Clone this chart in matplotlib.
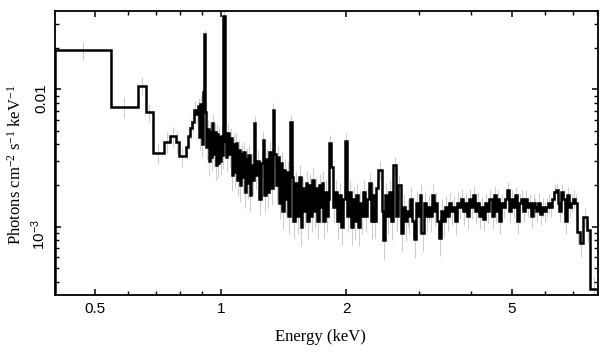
"""Unfolded X-ray spectrum (photons cm^-2 s^-1 keV^-1) vs energy."""

import matplotlib

matplotlib.use("Agg")
import matplotlib.pyplot as plt
import numpy as np

# bin edges in keV (one more than the number of bins)
edges_kev = [
    0.400, 0.544, 0.634, 0.660, 0.688, 0.730, 0.754, 0.780, 0.792, 0.824,
    0.834, 0.846, 0.855, 0.863, 0.874, 0.882, 0.888, 0.894, 0.900, 0.906,
    0.912, 0.918, 0.924, 0.930, 0.936, 0.942, 0.948, 0.954, 0.960, 0.966,
    0.972, 0.978, 0.984, 0.990, 0.996, 1.002, 1.008, 1.014, 1.022, 1.030,
    1.038, 1.046, 1.054, 1.062, 1.070, 1.078, 1.086, 1.094, 1.102, 1.110,
    1.118, 1.126, 1.134, 1.142, 1.150, 1.158, 1.166, 1.174, 1.182, 1.190,
    1.200, 1.212, 1.224, 1.236, 1.248, 1.260, 1.272, 1.284, 1.296, 1.308,
    1.320, 1.332, 1.346, 1.358, 1.370, 1.382, 1.394, 1.406, 1.418, 1.430,
    1.442, 1.454, 1.466, 1.480, 1.495, 1.510, 1.525, 1.540, 1.555, 1.570,
    1.585, 1.600, 1.615, 1.630, 1.645, 1.660, 1.675, 1.690, 1.705, 1.720,
    1.735, 1.750, 1.765, 1.780, 1.795, 1.810, 1.825, 1.845, 1.865, 1.885,
    1.905, 1.925, 1.945, 1.965, 1.985, 2.015, 2.035, 2.055, 2.075, 2.095,
    2.115, 2.135, 2.155, 2.175, 2.195, 2.215, 2.240, 2.265, 2.290, 2.315,
    2.340, 2.365, 2.390, 2.435, 2.460, 2.485, 2.510, 2.535, 2.560, 2.590,
    2.640, 2.670, 2.705, 2.735, 2.765, 2.795, 2.825, 2.855, 2.885, 2.915,
    2.945, 2.975, 3.005, 3.035, 3.070, 3.105, 3.140, 3.175, 3.210, 3.245,
    3.280, 3.315, 3.350, 3.385, 3.420, 3.460, 3.500, 3.540, 3.580, 3.620,
    3.660, 3.700, 3.740, 3.780, 3.820, 3.860, 3.900, 3.945, 3.990, 4.035,
    4.080, 4.125, 4.170, 4.220, 4.270, 4.320, 4.370, 4.420, 4.470, 4.520,
    4.570, 4.620, 4.670, 4.720, 4.770, 4.820, 4.870, 4.920, 4.975, 5.030,
    5.085, 5.140, 5.195, 5.250, 5.310, 5.370, 5.430, 5.490, 5.550, 5.610,
    5.670, 5.730, 5.790, 5.850, 5.910, 5.975, 6.040, 6.105, 6.170, 6.235,
    6.300, 6.370, 6.440, 6.510, 6.580, 6.650, 6.720, 6.790, 6.860, 6.930,
    7.000, 7.080, 7.160, 7.280, 7.420, 7.570, 7.700, 8.040,
]

# unfolded flux per bin
flux = [
    0.0193, 0.00747, 0.0106, 0.0068, 0.00346, 0.00416, 0.00457, 0.00416, 0.00327, 0.0038,
    0.0046, 0.0052, 0.0058, 0.0071, 0.0066, 0.0075, 0.0045, 0.0078, 0.0040, 0.0095,
    0.0251, 0.0068, 0.0038, 0.0051, 0.0030, 0.0049, 0.0032, 0.0057, 0.0034, 0.0049,
    0.0028, 0.0047, 0.0029, 0.0045, 0.0030, 0.0046, 0.0033, 0.0342, 0.0042, 0.0032,
    0.0048, 0.0034, 0.0044, 0.0024, 0.0040, 0.0025, 0.0041, 0.0022, 0.0036, 0.0020,
    0.0034, 0.0023, 0.0035, 0.0018, 0.0031, 0.0021, 0.0033, 0.0017, 0.0028, 0.0022,
    0.0057, 0.0024, 0.0030, 0.0016, 0.0029, 0.0043, 0.0017, 0.0031, 0.0018, 0.0035,
    0.0019, 0.0071, 0.0034, 0.0020, 0.0032, 0.0015, 0.0029, 0.0013, 0.0026, 0.0016,
    0.0025, 0.0012, 0.0058, 0.0023, 0.0011, 0.0021, 0.0012, 0.0023, 0.0010, 0.0019,
    0.0013, 0.0021, 0.0011, 0.0020, 0.0012, 0.0022, 0.0013, 0.0019, 0.0011, 0.0020,
    0.0014, 0.0021, 0.0011, 0.0018, 0.0012, 0.0016, 0.0041, 0.0027, 0.0014, 0.0018,
    0.0011, 0.0017, 0.0010, 0.0016, 0.0042, 0.0012, 0.0018, 0.0010, 0.0016, 0.0011,
    0.0017, 0.0010, 0.0015, 0.0012, 0.0018, 0.0012, 0.0016, 0.0021, 0.0011, 0.0017,
    0.0011, 0.0019, 0.0026, 0.0013, 0.0008, 0.0017, 0.0012, 0.0018, 0.0011, 0.0028,
    0.0012, 0.0020, 0.0009, 0.0014, 0.0011, 0.0013, 0.0012, 0.0016, 0.0011, 0.00082,
    0.0015, 0.0012, 0.0017, 0.0009, 0.0015, 0.0012, 0.0014, 0.0012, 0.0017, 0.0013,
    0.0015, 0.0011, 0.00083, 0.0013, 0.0011, 0.0014, 0.0012, 0.0015, 0.0013, 0.0014,
    0.0011, 0.0015, 0.0014, 0.0016, 0.0013, 0.0015, 0.0012, 0.0016, 0.0014, 0.0017,
    0.0013, 0.0015, 0.0012, 0.0014, 0.00115, 0.0015, 0.0013, 0.0016, 0.0012, 0.0017,
    0.0013, 0.0016, 0.0011, 0.0015, 0.0014, 0.0016, 0.00185, 0.0013, 0.0016, 0.0014,
    0.0017, 0.0011, 0.0015, 0.0016, 0.0013, 0.0016, 0.0014, 0.0015, 0.0012, 0.0015,
    0.0014, 0.0013, 0.0015, 0.00125, 0.0014, 0.0013, 0.0014, 0.0015, 0.0014, 0.0016,
    0.0018, 0.00185, 0.0015, 0.0013, 0.0018, 0.0016, 0.0011, 0.0017, 0.0014, 0.0015,
    0.0016, 0.0015, 0.00092, 0.00076, 0.00118, 0.00095, 0.000356,
]

# 1-sigma errors as a fraction of the flux
rel_err = [
    0.15, 0.17, 0.15, 0.15, 0.17, 0.17, 0.17, 0.18, 0.17, 0.18,
    0.18, 0.16, 0.16, 0.15, 0.15, 0.16, 0.2, 0.15, 0.2, 0.15,
    0.08, 0.16, 0.2, 0.18, 0.22, 0.18, 0.2, 0.16, 0.2, 0.18,
    0.22, 0.18, 0.22, 0.18, 0.2, 0.18, 0.2, 0.08, 0.18, 0.2,
    0.18, 0.2, 0.18, 0.24, 0.18, 0.24, 0.18, 0.24, 0.18, 0.24,
    0.18, 0.24, 0.18, 0.24, 0.2, 0.24, 0.2, 0.24, 0.2, 0.22,
    0.12, 0.22, 0.2, 0.24, 0.2, 0.15, 0.24, 0.2, 0.24, 0.18,
    0.24, 0.12, 0.18, 0.24, 0.2, 0.24, 0.2, 0.26, 0.2, 0.24,
    0.2, 0.26, 0.12, 0.22, 0.26, 0.22, 0.26, 0.22, 0.27, 0.22,
    0.24, 0.22, 0.26, 0.22, 0.24, 0.22, 0.24, 0.22, 0.26, 0.22,
    0.24, 0.22, 0.26, 0.22, 0.24, 0.22, 0.14, 0.16, 0.24, 0.22,
    0.26, 0.22, 0.26, 0.22, 0.14, 0.24, 0.22, 0.26, 0.22, 0.26,
    0.22, 0.27, 0.22, 0.26, 0.22, 0.24, 0.22, 0.18, 0.26, 0.22,
    0.24, 0.22, 0.16, 0.24, 0.28, 0.22, 0.26, 0.22, 0.27, 0.15,
    0.24, 0.2, 0.27, 0.23, 0.28, 0.23, 0.26, 0.22, 0.24, 0.28,
    0.22, 0.23, 0.2, 0.26, 0.22, 0.24, 0.22, 0.24, 0.2, 0.22,
    0.2, 0.23, 0.26, 0.22, 0.23, 0.2, 0.22, 0.19, 0.2, 0.19,
    0.21, 0.19, 0.19, 0.18, 0.2, 0.18, 0.2, 0.17, 0.19, 0.17,
    0.19, 0.17, 0.19, 0.18, 0.19, 0.17, 0.18, 0.16, 0.19, 0.16,
    0.18, 0.16, 0.19, 0.16, 0.17, 0.16, 0.15, 0.18, 0.16, 0.17,
    0.15, 0.19, 0.16, 0.16, 0.17, 0.16, 0.16, 0.16, 0.18, 0.16,
    0.16, 0.17, 0.16, 0.18, 0.16, 0.17, 0.16, 0.16, 0.16, 0.15,
    0.14, 0.13, 0.15, 0.16, 0.14, 0.15, 0.19, 0.15, 0.16, 0.15,
    0.15, 0.15, 0.18, 0.2, 0.16, 0.18, 0.22,
]

x_major = [0.5, 1, 2, 5]
x_major_labels = ["0.5", "1", "2", "5"]
x_minor = [0.6, 0.7, 0.8, 0.9, 3, 4, 6, 7, 8]
y_major = [1e-3, 1e-2]
y_major_labels = [r"$\mathsf{10^{-3}}$", "0.01"]
y_minor = [4e-4, 5e-4, 6e-4, 7e-4, 8e-4, 9e-4,
           2e-3, 3e-3, 4e-3, 5e-3, 6e-3, 7e-3, 8e-3, 9e-3, 2e-2, 3e-2]

assert len(edges_kev) == len(flux) + 1 == len(rel_err) + 1, (
    len(edges_kev), len(flux), len(rel_err))

plt.rcParams.update(
    {
        "font.family": "Liberation Sans",
        "font.size": 11,
        "mathtext.fontset": "custom",
        "mathtext.rm": "Liberation Serif",
        "mathtext.it": "Liberation Serif:italic",
        "mathtext.sf": "Liberation Sans",
        "xtick.direction": "in",
        "ytick.direction": "in",
        "xtick.top": True,
        "ytick.right": True,
        "xtick.major.size": 4.5,
        "ytick.major.size": 4.5,
        "xtick.minor.size": 2.6,
        "ytick.minor.size": 2.6,
        "xtick.major.width": 1.1,
        "ytick.major.width": 1.1,
        "xtick.minor.width": 1.0,
        "ytick.minor.width": 1.0,
        "axes.linewidth": 1.3,
    }
)

edges = np.array(edges_kev)
f = np.array(flux)
err = f * np.array(rel_err)
centers = np.sqrt(edges[:-1] * edges[1:])

fig = plt.figure(figsize=(6.09, 3.57), dpi=100)
ax = fig.add_axes([0.0903, 0.1737, 0.8911, 0.7955])

ax.errorbar(centers, f, yerr=err, fmt="none", ecolor="#cdcdcd",
            elinewidth=0.8, zorder=1)
ax.stairs(f, edges, color="black", lw=1.8, zorder=2)

ax.set_xscale("log")
ax.set_yscale("log")
ax.set_xlim(0.4, 8.04)
ax.set_ylim(3.2e-4, 0.037)

ax.set_xticks(x_major, labels=x_major_labels)
ax.set_xticks(x_minor, minor=True)
ax.set_xticklabels([], minor=True)
ax.set_yticks(y_major, labels=y_major_labels)
ax.set_yticks(y_minor, minor=True)
ax.set_yticklabels([], minor=True)
ax.tick_params(axis="x", which="major", pad=5)
ax.tick_params(axis="y", which="major", labelrotation=90, pad=5)

ax.set_xlabel("Energy (keV)", family="Liberation Serif", fontsize=12)
ax.set_ylabel(r"Photons cm$^{-2}$ s$^{-1}$ keV$^{-1}$",
              family="Liberation Serif", fontsize=12)
ax.xaxis.set_label_coords(0.49, -0.12)
ax.yaxis.set_label_coords(-0.055, 0.458)

fig.savefig("out.png", dpi=100)
plt.close(fig)
